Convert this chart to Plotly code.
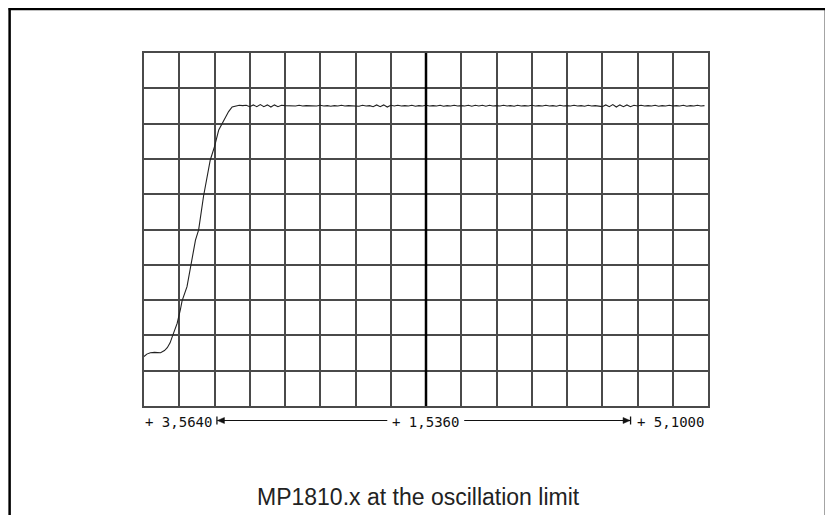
import plotly.graph_objects as go

# ---- data (grid units: 16 x-divisions, 10 y-divisions) ----
x_rise = [0.00, 0.08, 0.18, 0.30, 0.47, 0.58, 0.66, 0.74, 0.80, 0.94, 1.03, 1.08, 1.22, 1.32,
          1.46, 1.55, 1.69, 1.88, 2.00, 2.12, 2.22, 2.32, 2.40, 2.50]
y_rise = [1.40, 1.47, 1.51, 1.52, 1.51, 1.57, 1.65, 1.79, 1.96, 2.34, 2.72, 2.98, 3.38, 3.97,
          4.70, 4.99, 5.95, 6.97, 7.35, 7.82, 8.01, 8.20, 8.34, 8.47]

x_plateau = [2.6, 2.7, 2.8, 2.9,
             3.0, 3.1, 3.2, 3.3, 3.4, 3.5, 3.6, 3.7, 3.8, 3.9,
             4.0, 4.1, 4.2, 4.3, 4.4, 4.5, 4.6, 4.7, 4.8, 4.9,
             5.0, 5.1, 5.2, 5.3, 5.4, 5.5, 5.6, 5.7, 5.8, 5.9,
             6.0, 6.1, 6.2, 6.3, 6.4, 6.5, 6.6, 6.7, 6.8, 6.9,
             7.0, 7.1, 7.2, 7.3, 7.4, 7.5, 7.6, 7.7, 7.8, 7.9,
             8.0, 8.1, 8.2, 8.3, 8.4, 8.5, 8.6, 8.7, 8.8, 8.9,
             9.0, 9.1, 9.2, 9.3, 9.4, 9.5, 9.6, 9.7, 9.8, 9.9,
             10.0, 10.1, 10.2, 10.3, 10.4, 10.5, 10.6, 10.7, 10.8, 10.9,
             11.0, 11.1, 11.2, 11.3, 11.4, 11.5, 11.6, 11.7, 11.8, 11.9,
             12.0, 12.1, 12.2, 12.3, 12.4, 12.5, 12.6, 12.7, 12.8, 12.9,
             13.0, 13.1, 13.2, 13.3, 13.4, 13.5, 13.6, 13.7, 13.8, 13.9,
             14.0, 14.1, 14.2, 14.3, 14.4, 14.5, 14.6, 14.7, 14.8, 14.9,
             15.0, 15.1, 15.2, 15.3, 15.4, 15.5, 15.6, 15.7, 15.8, 15.9]
y_plateau = [8.50, 8.52, 8.51, 8.52,
             8.48, 8.53, 8.48, 8.54, 8.48, 8.53, 8.47, 8.53, 8.48, 8.52,
             8.51, 8.50, 8.51, 8.50, 8.52, 8.50, 8.51, 8.50, 8.51, 8.50,
             8.52, 8.50, 8.51, 8.49, 8.51, 8.50, 8.52, 8.50, 8.51, 8.50,
             8.51, 8.49, 8.52, 8.50, 8.51, 8.48, 8.53, 8.48, 8.53, 8.47,
             8.52, 8.50, 8.52, 8.50, 8.51, 8.50, 8.52, 8.49, 8.51, 8.50,
             8.52, 8.50, 8.51, 8.50, 8.52, 8.49, 8.51, 8.50, 8.52, 8.50,
             8.51, 8.50, 8.52, 8.49, 8.52, 8.50, 8.52, 8.49, 8.52, 8.50,
             8.51, 8.50, 8.52, 8.50, 8.51, 8.49, 8.52, 8.50, 8.51, 8.50,
             8.52, 8.50, 8.51, 8.50, 8.52, 8.50, 8.51, 8.49, 8.52, 8.50,
             8.51, 8.50, 8.52, 8.50, 8.51, 8.49, 8.52, 8.50, 8.51, 8.50,
             8.48, 8.53, 8.48, 8.54, 8.47, 8.53, 8.48, 8.53, 8.48, 8.52,
             8.50, 8.52, 8.50, 8.51, 8.50, 8.52, 8.49, 8.51, 8.50, 8.52,
             8.50, 8.51, 8.50, 8.52, 8.49, 8.51, 8.50, 8.52, 8.50, 8.51]

scale_labels = ["+ 3,5640", "+ 1,5360", "+ 5,1000"]
caption = "MP1810.x at the oscillation limit"

# ---- layout geometry ----
# the page body has an 8 px margin, so the figure starts at (8, 8) in the window
OFF = 8
W, H = 833 - OFF, 515 - OFF
# plot area in window pixels
L, R, T, B = 143.5, 708.0, 53.0, 406.0
PW, PH = R - L, B - T


def px(x):  # window x pixel -> paper fraction
    return (x - L) / PW


def py(y):  # window y pixel -> paper fraction
    return (B - y) / PH


fig = go.Figure()
fig.add_trace(go.Scatter(x=x_rise + x_plateau, y=y_rise + y_plateau, mode="lines",
                         line=dict(color="#222222", width=1.1), hoverinfo="skip",
                         showlegend=False))

grid_color = "#4a4a4a"
fig.update_xaxes(range=[0, 16], dtick=1, tick0=0, showgrid=True, gridcolor=grid_color,
                 gridwidth=1.5, showticklabels=False, ticks="", zeroline=False,
                 showline=True, linecolor=grid_color, linewidth=1.5, mirror=True)
fig.update_yaxes(range=[0, 10], dtick=1, tick0=0, showgrid=True, gridcolor=grid_color,
                 gridwidth=1.5, showticklabels=False, ticks="", zeroline=False,
                 showline=True, linecolor=grid_color, linewidth=1.5, mirror=True)

shapes = []
# thick centre line
shapes.append(dict(type="line", xref="x", yref="paper", x0=8, x1=8, y0=0, y1=1,
                   line=dict(color="black", width=2.5)))
# outer frame (left, top, right)
frame = dict(color="black", width=2.5)
shapes.append(dict(type="line", xref="paper", yref="paper", x0=px(9.0), x1=px(9.0),
                   y0=py(8), y1=py(530), line=frame))
shapes.append(dict(type="line", xref="paper", yref="paper", x0=px(8), x1=px(827),
                   y0=py(9.0), y1=py(9.0), line=frame))
shapes.append(dict(type="line", xref="paper", yref="paper", x0=px(826), x1=px(826),
                   y0=py(8), y1=py(530), line=frame))

# scale arrows
ay = 420.5
thin = dict(color="#111", width=1)
shapes.append(dict(type="line", xref="paper", yref="paper", x0=px(216.5), x1=px(216.5),
                   y0=py(416.5), y1=py(424.5), line=dict(color="#111", width=1.3)))
shapes.append(dict(type="path", xref="paper", yref="paper",
                   path="M {} {} L {} {} L {} {} Z".format(px(217), py(ay), px(224), py(ay - 3),
                                                        px(224), py(ay + 3)),
                   fillcolor="#111", line=dict(color="#111", width=0.5)))
shapes.append(dict(type="line", xref="paper", yref="paper", x0=px(217), x1=px(387),
                   y0=py(ay), y1=py(ay), line=thin))
shapes.append(dict(type="line", xref="paper", yref="paper", x0=px(464), x1=px(630),
                   y0=py(ay), y1=py(ay), line=thin))
shapes.append(dict(type="path", xref="paper", yref="paper",
                   path="M {} {} L {} {} L {} {} Z".format(px(630), py(ay), px(623), py(ay - 3),
                                                        px(623), py(ay + 3)),
                   fillcolor="#111", line=dict(color="#111", width=0.5)))
shapes.append(dict(type="line", xref="paper", yref="paper", x0=px(630.5), x1=px(630.5),
                   y0=py(416.5), y1=py(424.5), line=dict(color="#111", width=1.3)))

mono = dict(family="DejaVu Sans Mono", size=14, color="#111")
annotations = [
    dict(text=scale_labels[0], x=px(214), y=py(421.5), xref="paper", yref="paper",
         xanchor="right", yanchor="middle", showarrow=False, font=mono),
    dict(text=scale_labels[1], x=px(390), y=py(421.5), xref="paper", yref="paper",
         xanchor="left", yanchor="middle", showarrow=False, font=mono),
    dict(text=scale_labels[2], x=px(706), y=py(421.5), xref="paper", yref="paper",
         xanchor="right", yanchor="middle", showarrow=False, font=mono),
    dict(text=caption, x=px(418), y=py(497), xref="paper", yref="paper",
         xanchor="center", yanchor="middle", showarrow=False,
         font=dict(family="Liberation Sans", size=23, color="#222")),
]

fig.update_layout(width=W, height=H, autosize=False,
                  margin=dict(l=L - OFF, r=(W + OFF) - R, t=T - OFF, b=(H + OFF) - B, pad=0),
                  paper_bgcolor="white", plot_bgcolor="white",
                  shapes=shapes, annotations=annotations, showlegend=False)

fig.write_html("out.html", config={"displayModeBar": False})
